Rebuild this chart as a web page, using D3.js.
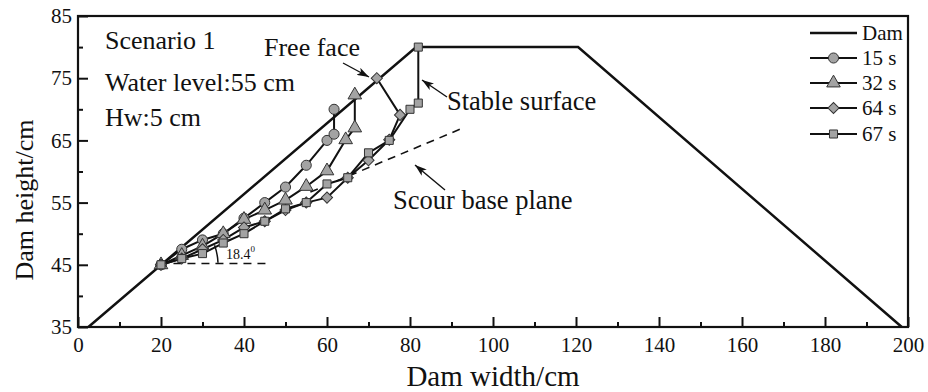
<!DOCTYPE html>
<html>
<head>
<meta charset="utf-8">
<script src="https://cdn.jsdelivr.net/npm/d3@7"></script>
<style>
  html, body { margin: 0; padding: 0; background: #fff; }
  svg { display: block; }
  text { font-family: "Liberation Serif", "Times New Roman", serif; fill: #111; }
</style>
</head>
<body>
<svg id="chart" width="928" height="392"></svg>
<script>
// Dam outline (width cm, height cm)
const damX = [2.5, 81.5, 120.5, 198.5];
const damY = [35, 80, 80, 35];

// Scoured upstream profiles at successive times
const s15X = [20, 25, 30, 35, 40, 45, 50, 55, 60, 61.7, 61.7];
const s15Y = [45, 47.5, 49, 50, 52.5, 55, 57.5, 61, 65, 66, 70];

const s32X = [20, 25, 30, 35, 40, 45, 50, 55, 60, 64.5, 66.7, 66.7];
const s32Y = [45, 46.5, 48, 50, 52.3, 53.8, 55.4, 57.6, 60.1, 65.1, 67, 72.3];

const s64X = [20, 25, 30, 35, 40, 45, 50, 55, 60, 65, 70, 75, 77.6, 72];
const s64Y = [45, 46, 47.5, 49, 51, 52, 53.8, 55, 55.8, 59, 61.8, 65.1, 69.1, 75];

const s67X = [20, 25, 30, 35, 40, 45, 50, 55, 60, 65, 70, 75, 80, 82, 82];
const s67Y = [45, 46, 46.8, 48.5, 50, 52, 54, 55, 58, 59, 63, 65, 70, 71, 80];

const seriesNames = ["15 s", "32 s", "64 s", "67 s"];
const seriesSymbols = ["circle", "triangle", "diamond", "square"];

// Axis ticks
const xTicks = [0, 20, 40, 60, 80, 100, 120, 140, 160, 180, 200];
const xMinor = [10, 30, 50, 70, 90, 110, 130, 150, 170, 190];
const yTicks = [35, 45, 55, 65, 75, 85];
const yMinor = [40, 50, 60, 70, 80];

// Reference lines
const scourBaseX = [56, 92.8];
const scourBaseY = [56.7, 67];
const horizX = [23, 45.5];
const horizY = [45.2, 45.2];

const svg = d3.select("#chart");
const plotLeft = 78, plotTop = 16, plotRight = 908, plotBottom = 327;

const x = d3.scaleLinear().domain([0, 200]).range([plotLeft, plotRight]);
const y = d3.scaleLinear().domain([35, 85]).range([plotBottom, plotTop]);

const ink = "#111";

// arrow marker
const defs = svg.append("defs");
defs.append("marker")
  .attr("id", "arrow")
  .attr("viewBox", "0 0 12 8")
  .attr("refX", 12).attr("refY", 4)
  .attr("markerWidth", 12).attr("markerHeight", 8)
  .attr("markerUnits", "userSpaceOnUse")
  .attr("orient", "auto")
  .append("path")
  .attr("d", "M0,0 L12,4 L0,8 L3,4 Z")
  .attr("fill", ink);

// axes with inward ticks
const gx = svg.append("g").attr("transform", `translate(0,${y(35)})`)
  .call(d3.axisBottom(x).tickValues(xTicks).tickSizeInner(-10).tickSizeOuter(0).tickPadding(10));
const gxm = svg.append("g").attr("transform", `translate(0,${y(35)})`)
  .call(d3.axisBottom(x).tickValues(xMinor).tickSize(-5).tickFormat(""));
const gy = svg.append("g").attr("transform", `translate(${x(0)},0)`)
  .call(d3.axisLeft(y).tickValues(yTicks).tickSizeInner(-10).tickSizeOuter(0).tickPadding(6));
const gym = svg.append("g").attr("transform", `translate(${x(0)},0)`)
  .call(d3.axisLeft(y).tickValues(yMinor).tickSize(-5).tickFormat(""));

[gx, gxm, gy, gym].forEach(g => {
  g.select(".domain").remove();
  g.selectAll(".tick line").attr("stroke", ink).attr("stroke-width", 2);
  g.selectAll(".tick text").attr("font-size", 21).attr("fill", ink)
    .attr("font-family", "Liberation Serif, Times New Roman, serif");
});

// frame
svg.append("rect")
  .attr("x", x(0)).attr("y", y(85))
  .attr("width", x(200) - x(0)).attr("height", y(35) - y(85))
  .attr("fill", "none").attr("stroke", ink).attr("stroke-width", 2.2);

// axis titles
svg.append("text").attr("x", 493).attr("y", 386)
  .attr("text-anchor", "middle").attr("font-size", 29).text("Dam width/cm");
svg.append("text")
  .attr("transform", `translate(33,200) rotate(-90)`)
  .attr("text-anchor", "middle").attr("font-size", 26).text("Dam height/cm");

const line = d3.line().x(d => x(d[0])).y(d => y(d[1]));
const zip = (a, b) => a.map((v, i) => [v, b[i]]);

// dashed reference lines
svg.append("path").datum(zip(scourBaseX, scourBaseY)).attr("d", line)
  .attr("fill", "none").attr("stroke", ink).attr("stroke-width", 1.6).attr("stroke-dasharray", "8,6");
svg.append("path").datum(zip(horizX, horizY)).attr("d", line)
  .attr("fill", "none").attr("stroke", ink).attr("stroke-width", 1.6).attr("stroke-dasharray", "8,6");

// angle arc
const cx = x(20), cy = y(45), r = 57;
const a0 = 0, a1 = -20 * Math.PI / 180;
svg.append("path")
  .attr("d", `M${cx + r * Math.cos(a0)},${cy + r * Math.sin(a0) - 2} A${r},${r} 0 0 0 ${cx + r * Math.cos(a1)},${cy + r * Math.sin(a1)}`)
  .attr("fill", "none").attr("stroke", ink).attr("stroke-width", 1.5);
const ang = svg.append("text").attr("x", 226).attr("y", 259).attr("font-size", 14);
ang.append("tspan").text("18.4");
ang.append("tspan").attr("font-size", 9).attr("dy", -7).text("0");

// dam
svg.append("path").datum(zip(damX, damY)).attr("d", line)
  .attr("fill", "none").attr("stroke", ink).attr("stroke-width", 2.5).attr("stroke-linejoin", "miter");

// series
const series = [zip(s15X, s15Y), zip(s32X, s32Y), zip(s64X, s64Y), zip(s67X, s67Y)];
const symType = {
  circle: d3.symbolCircle, triangle: d3.symbolTriangle,
  diamond: d3.symbolSquare, square: d3.symbolSquare
};
const symSize = { circle: 80, triangle: 80, diamond: 62, square: 65 };
const symRot = { circle: 0, triangle: 0, diamond: 45, square: 0 };
const markFill = "#a3a3a3";

series.forEach(pts => {
  svg.append("path").datum(pts).attr("d", line)
    .attr("fill", "none").attr("stroke", ink).attr("stroke-width", 2).attr("stroke-linejoin", "round");
});
series.forEach((pts, i) => {
  const s = seriesSymbols[i];
  svg.append("g").selectAll("path").data(pts).join("path")
    .attr("transform", d => `translate(${x(d[0])},${y(d[1])}) rotate(${symRot[s]})`)
    .attr("d", d3.symbol().type(symType[s]).size(symSize[s]))
    .attr("fill", markFill).attr("stroke", "#333").attr("stroke-width", 1);
});

// annotations
const note = (tx, ty, t, fs) => svg.append("text").attr("x", tx).attr("y", ty).attr("font-size", fs).text(t);
note(105, 49, "Scenario 1", 26);
note(105, 91, "Water level:55 cm", 26);
note(105, 126, "Hw:5 cm", 26);
note(264, 56, "Free face", 26);
note(447, 110, "Stable surface", 26.5);
note(393, 209, "Scour base plane", 26.5);

const arrow = (x1, y1, x2, y2) => svg.append("line")
  .attr("x1", x1).attr("y1", y1).attr("x2", x2).attr("y2", y2)
  .attr("stroke", ink).attr("stroke-width", 1.4).attr("marker-end", "url(#arrow)");
arrow(343, 63, 369, 77);
arrow(447, 97, 422, 80);
arrow(445, 190, 415, 165);

// legend
const legX0 = 810, legX1 = 857, legRows = [33, 58, 83, 108, 134];
const lg = svg.append("g");
lg.append("line").attr("x1", legX0).attr("x2", legX1).attr("y1", legRows[0]).attr("y2", legRows[0])
  .attr("stroke", ink).attr("stroke-width", 2.5);
lg.append("text").attr("x", 862).attr("y", legRows[0] + 7).attr("font-size", 21).text("Dam");
seriesNames.forEach((n, i) => {
  const ry = legRows[i + 1];
  const s = seriesSymbols[i];
  lg.append("line").attr("x1", legX0).attr("x2", legX1).attr("y1", ry).attr("y2", ry)
    .attr("stroke", ink).attr("stroke-width", 2);
  lg.append("path").attr("transform", `translate(${(legX0 + legX1) / 2},${ry}) rotate(${symRot[s]})`)
    .attr("d", d3.symbol().type(symType[s]).size(symSize[s]))
    .attr("fill", markFill).attr("stroke", "#333").attr("stroke-width", 1);
  lg.append("text").attr("x", 862).attr("y", ry + 7).attr("font-size", 21).text(n);
});
</script>
</body>
</html>
